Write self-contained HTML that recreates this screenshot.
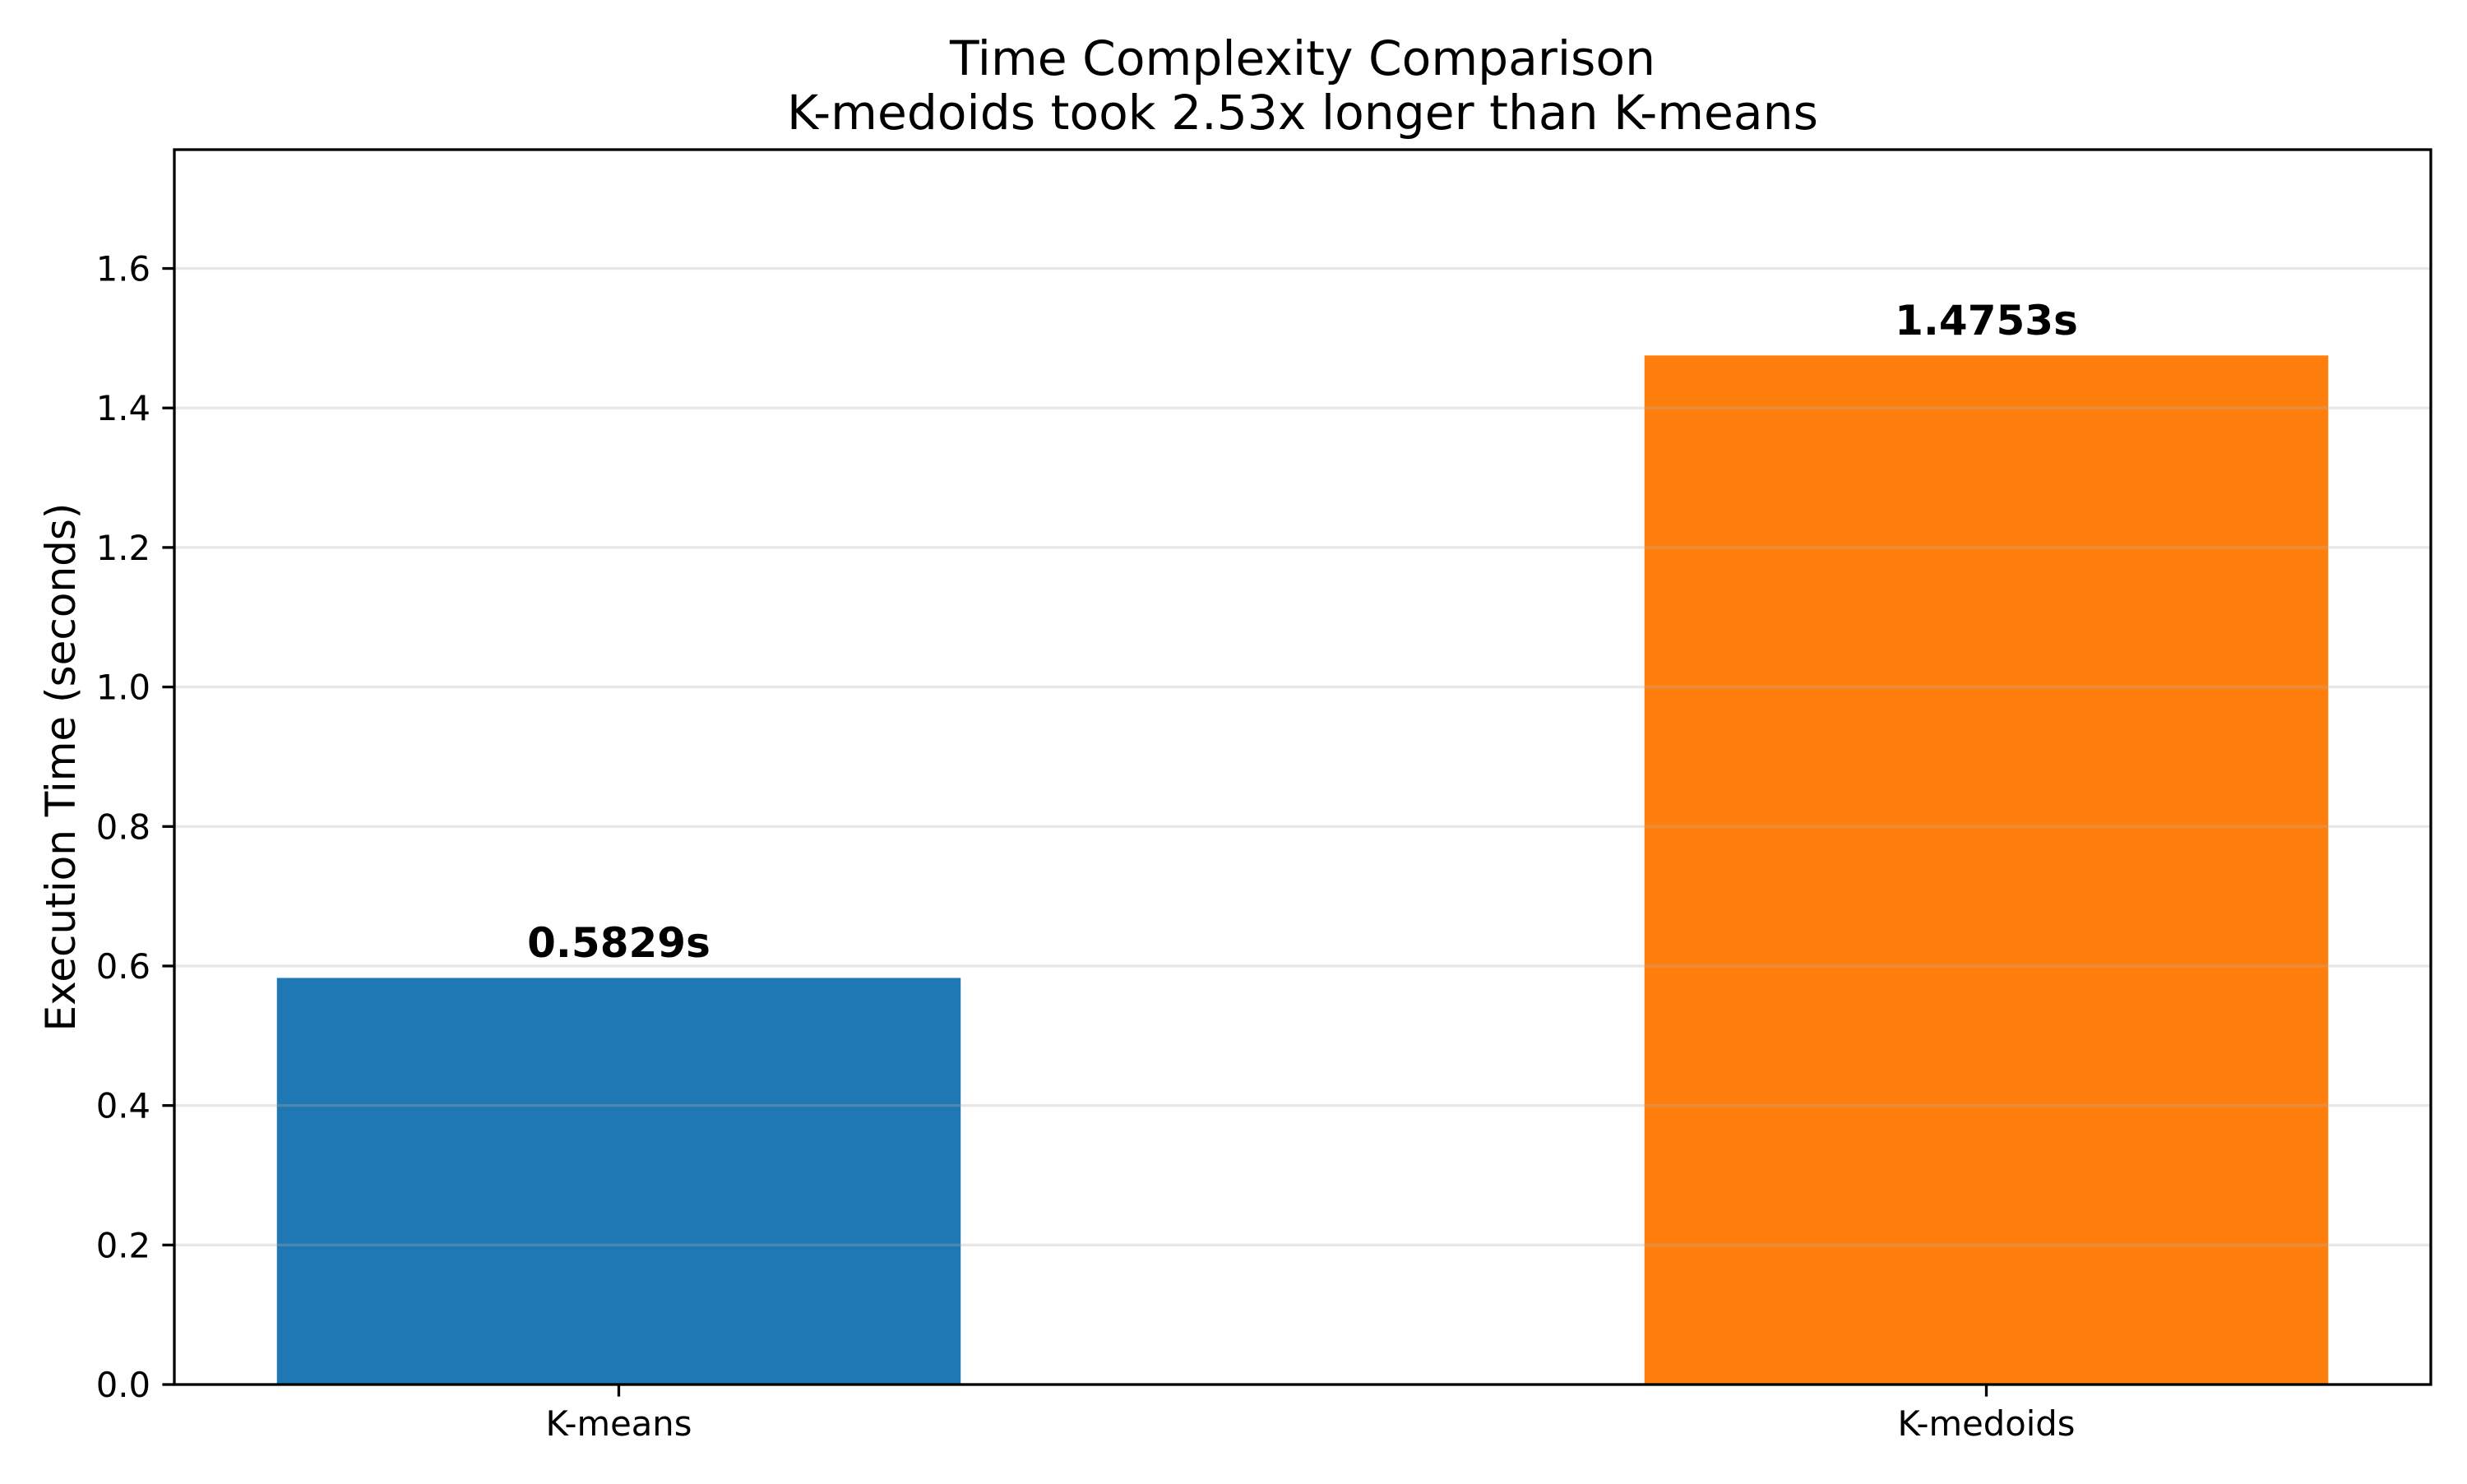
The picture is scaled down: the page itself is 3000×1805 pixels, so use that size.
<!DOCTYPE html>
<html><head><meta charset="utf-8"><style>
html,body{margin:0;padding:0;background:#fff;}
svg text{font-family:"DejaVu Sans","Liberation Sans",sans-serif;}
</style></head><body>
<svg id="chart" width="3000" height="1800" viewBox="0 0 3000 1800" xmlns="http://www.w3.org/2000/svg">
<rect width="3000" height="1800" fill="#fff"/>
<text x="1584" y="91" font-size="58.3" text-anchor="middle" fill="#000">Time Complexity Comparison</text>
<text x="1584" y="157" font-size="58.3" text-anchor="middle" fill="#000">K-medoids took 2.53x longer than K-means</text>
<text transform="translate(91,933) rotate(-90)" font-size="50" text-anchor="middle" fill="#000">Execution Time (seconds)</text>
<g id="bars"></g>
<g id="grid"></g>
<g id="ticks"></g>
<rect x="212" y="182" width="2744" height="1502" fill="none" stroke="#000" stroke-width="3.3"/>
</svg>
<script>
const categories = ["K-means", "K-medoids"];
const values = [0.5829, 1.4753];
const valueLabels = ["0.5829s", "1.4753s"];
const colors = ["#1f77b4", "#ff7f0e"];
const yTicks = [0.0, 0.2, 0.4, 0.6, 0.8, 1.0, 1.2, 1.4, 1.6];
const yTickLabels = ["0.0", "0.2", "0.4", "0.6", "0.8", "1.0", "1.2", "1.4", "1.6"];

const L = 212, R = 2956, T = 182, B = 1684;
const yMax = Math.max(...values) * 1.2;
const xMin = -0.325, xMax = (categories.length - 1) + 0.325;
const xs = v => L + (v - xMin) / (xMax - xMin) * (R - L);
const ys = v => B - v / yMax * (B - T);
const NS = "http://www.w3.org/2000/svg";
function mk(tag, attrs, parent, txt) {
  const e = document.createElementNS(NS, tag);
  for (const k in attrs) e.setAttribute(k, attrs[k]);
  if (txt !== undefined) e.textContent = txt;
  parent.appendChild(e);
  return e;
}
const gb = document.getElementById("bars"), gg = document.getElementById("grid"), gt = document.getElementById("ticks");
const bw = 0.5;
categories.forEach((c, i) => {
  const x0 = xs(i - bw / 2), x1 = xs(i + bw / 2);
  const r = mk("rect", {x: x0, y: ys(values[i]), width: x1 - x0, height: B - ys(values[i]), fill: colors[i]}, gb);
  
  
  const t = mk("text", {x: xs(i), y: ys(values[i] + 0.03), "font-size": 50, "font-weight": "bold", "text-anchor": "middle", fill: "#000"}, gb, valueLabels[i]);
  
  
  const tk = mk("line", {x1: xs(i), x2: xs(i), y1: B, y2: B + 14.6, stroke: "#000", "stroke-width": 3.3}, gt);
  
  
  const tl = mk("text", {x: xs(i), y: B + 62, "font-size": 41.7, "text-anchor": "middle", fill: "#000"}, gt, c);
  
  
});
yTicks.forEach((v, i) => {
  const gl = mk("line", {x1: L, x2: R, y1: ys(v), y2: ys(v), stroke: "#b0b0b0", "stroke-opacity": 0.3, "stroke-width": 3.3}, gg);
  
  
  const tk = mk("line", {x1: L - 14.6, x2: L, y1: ys(v), y2: ys(v), stroke: "#000", "stroke-width": 3.3}, gt);
  
  
  const tl = mk("text", {x: L - 29, y: ys(v) + 15, "font-size": 41.7, "text-anchor": "end", fill: "#000"}, gt, yTickLabels[i]);
  
  
});
</script>
</body></html>
